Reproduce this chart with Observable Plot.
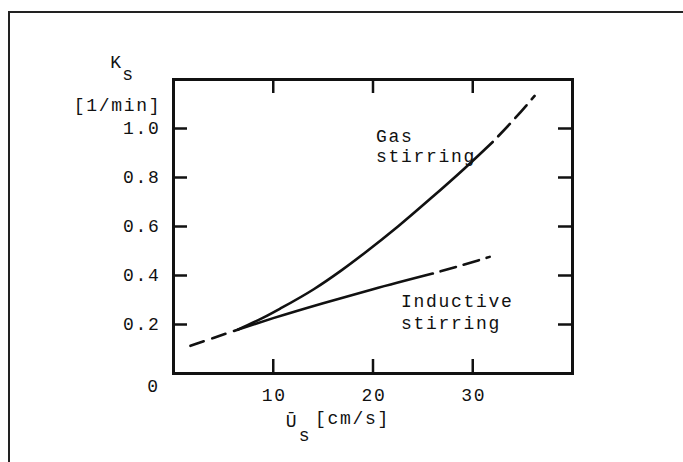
<!DOCTYPE html>
<html>
<head>
<meta charset="utf-8">
<script src="https://cdn.jsdelivr.net/npm/d3@7"></script>
<script src="https://cdn.jsdelivr.net/npm/@observablehq/plot@0.6"></script>
<style>
  html, body { margin: 0; padding: 0; background: #fff; }
  body { position: relative; width: 683px; height: 462px; overflow: hidden; }
  #border { position: absolute; left: 8px; top: 11px; width: 700px; height: 500px;
            border-left: 2px solid #222; border-top: 2px solid #222; }
  #chart { position: absolute; left: 0; top: 0; }
</style>
</head>
<body>
<div id="border"></div>
<div id="chart"></div>
<script>
// Gas stirring (solid part and dashed extrapolation)
const gasX = [6.5, 9.0, 10.7, 14.1, 16.8, 19.1, 22.5, 25.8, 29.2, 32.0];
const gasY = [0.18, 0.228, 0.265, 0.345, 0.42, 0.49, 0.60, 0.715, 0.838, 0.945];
const gasExtX = [32.0, 34.2, 36.2];
const gasExtY = [0.945, 1.04, 1.133];
// Inductive stirring (solid part and dashed extrapolation)
const indX = [6.5, 10.0, 15.0, 20.0, 26.0];
const indY = [0.18, 0.226, 0.287, 0.344, 0.408];
const indExtX = [26.0, 29.0, 31.7];
const indExtY = [0.408, 0.443, 0.476];
// common low-velocity extrapolation
const lowX = [1.7, 4.0, 6.5];
const lowY = [0.113, 0.145, 0.18];

const xTicks = [10, 20, 30];
const yTicks = [0.2, 0.4, 0.6, 0.8, 1.0];
const xTickLabels = ["10", "20", "30"];
const yTickLabels = ["0.2", "0.4", "0.6", "0.8", "1.0"];

const curveLabels = ["Gas", "stirring", "Inductive", "stirring"];
const curveLabelX = [20.3, 20.3, 22.8, 22.8];
const curveLabelY = [0.97, 0.888, 0.293, 0.207];

const zip = (xs, ys) => xs.map((x, i) => ({x, y: ys[i]}));

const W = 683, H = 462;
const mL = 173, mR = 111, mT = 79, mB = 89;
const plotW = W - mL - mR, plotH = H - mT - mB;
const tick = 14;
const font = "Liberation Mono, Courier New, monospace";
const fs = 18;
const ink = "#111";
const T = (opts) => ({fontSize: fs, fontFamily: font, fill: ink, textAnchor: "middle", lineAnchor: "middle", ...opts});

const chart = Plot.plot({
  width: W, height: H,
  marginLeft: mL, marginRight: mR, marginTop: mT, marginBottom: mB,
  x: {domain: [0, 40], axis: null},
  y: {domain: [0, 1.2], axis: null},
  style: {fontFamily: font, fontSize: fs + "px", letterSpacing: "1.7px", color: ink, background: "transparent"},
  marks: [
    Plot.frame({stroke: ink, strokeWidth: 3}),
    // inward ticks on all four sides
    Plot.ruleX(xTicks, {x: d => d, insetTop: plotH - tick, stroke: ink, strokeWidth: 2.5}),
    Plot.ruleX(xTicks, {x: d => d, insetBottom: plotH - tick, stroke: ink, strokeWidth: 2.5}),
    Plot.ruleY(yTicks, {y: d => d, insetRight: plotW - tick, stroke: ink, strokeWidth: 2.5}),
    Plot.ruleY(yTicks, {y: d => d, insetLeft: plotW - tick, stroke: ink, strokeWidth: 2.5}),
    // tick labels
    Plot.text(xTicks, T({x: d => d, text: (d, i) => xTickLabels[i], frameAnchor: "bottom", dy: 22, dx: 1})),
    Plot.text(yTicks, T({y: d => d, text: (d, i) => yTickLabels[i], frameAnchor: "left", dx: -13, textAnchor: "end"})),
    Plot.text(["0"], T({frameAnchor: "bottom-left", dx: -20, dy: 13})),
    // axis titles
    Plot.text(["K"], T({frameAnchor: "top-left", dx: -57, dy: -17})),
    Plot.text(["s"], T({frameAnchor: "top-left", dx: -45, dy: -5})),
    Plot.text(["[1/min]"], T({frameAnchor: "top-left", dx: -56, dy: 26})),
    Plot.text(["\u016A"], T({frameAnchor: "bottom", dx: -81, dy: 48})),
    Plot.text(["s"], T({frameAnchor: "bottom", dx: -68, dy: 62})),
    Plot.text(["[cm/s]"], T({frameAnchor: "bottom", dx: -58, dy: 45, textAnchor: "start"})),
    // curves
    Plot.line(zip(gasX, gasY), {x: "x", y: "y", curve: "monotone-x", stroke: ink, strokeWidth: 2.6}),
    Plot.line(zip(gasExtX, gasExtY), {x: "x", y: "y", curve: "monotone-x", stroke: ink, strokeWidth: 2.6, strokeDasharray: "17,8", strokeDashoffset: -8}),
    Plot.line(zip(indX, indY), {x: "x", y: "y", curve: "monotone-x", stroke: ink, strokeWidth: 2.6}),
    Plot.line(zip(indExtX, indExtY), {x: "x", y: "y", curve: "monotone-x", stroke: ink, strokeWidth: 2.6, strokeDasharray: "16,8", strokeDashoffset: -8}),
    Plot.line(zip(lowX, lowY), {x: "x", y: "y", curve: "monotone-x", stroke: ink, strokeWidth: 2.6, strokeDasharray: "14,9"}),
    // curve labels
    Plot.text(curveLabels, T({x: (d, i) => curveLabelX[i], y: (d, i) => curveLabelY[i], text: d => d, textAnchor: "start"}))
  ]
});
document.getElementById("chart").appendChild(chart);
</script>
</body>
</html>
